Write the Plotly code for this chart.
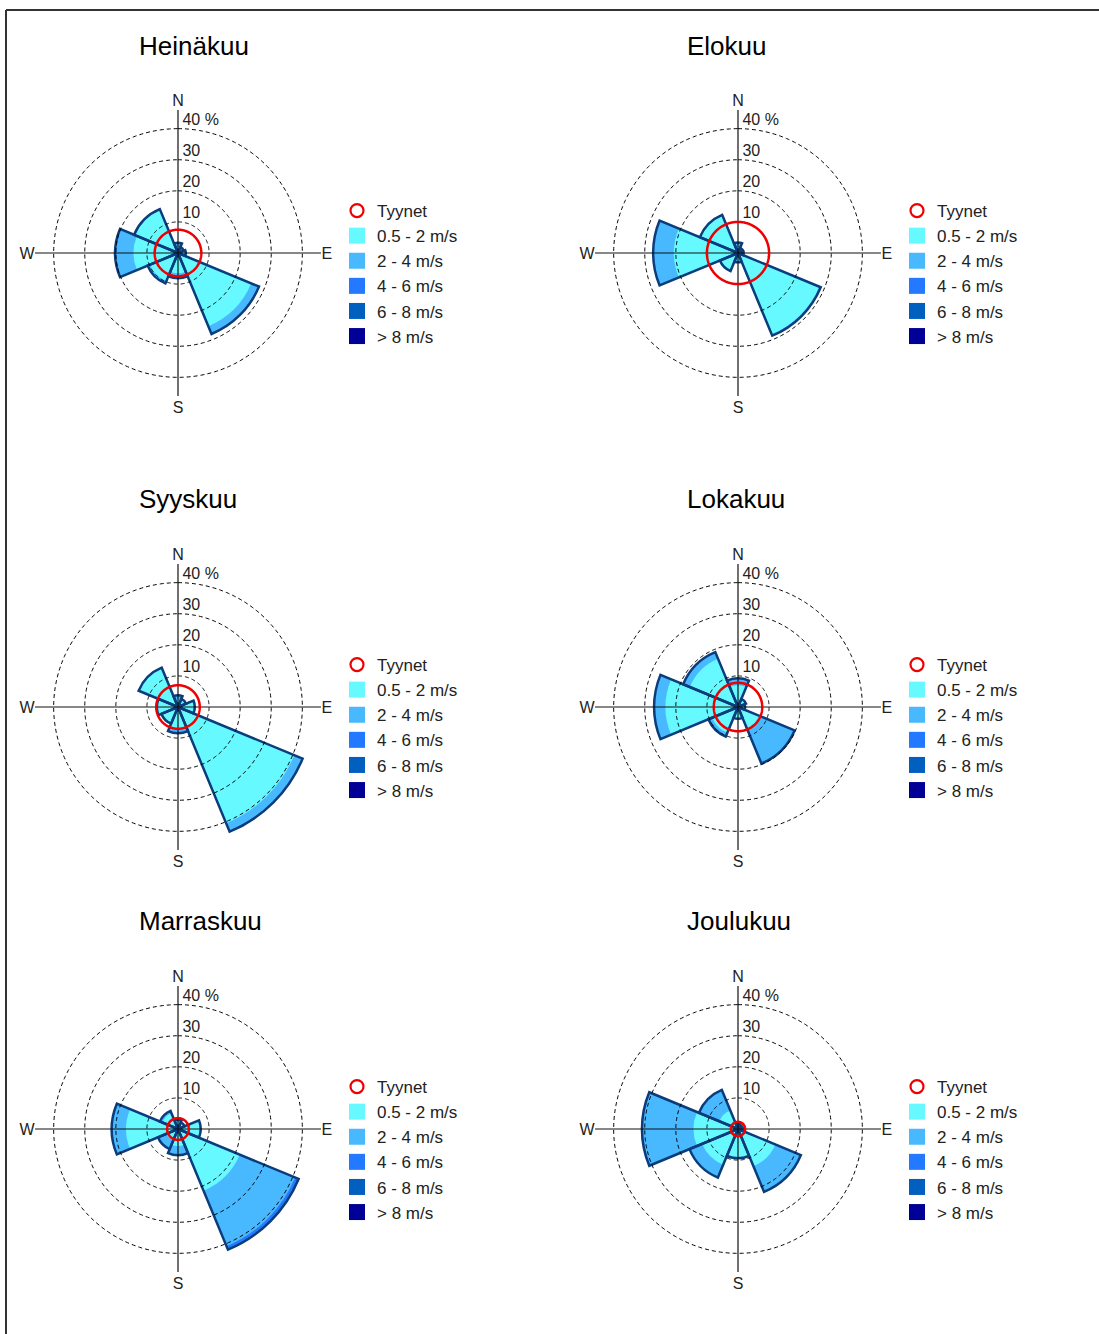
import plotly.graph_objects as go

# --- data -------------------------------------------------------------------
months = ["Heinäkuu", "Elokuu", "Syyskuu", "Lokakuu", "Marraskuu", "Joulukuu"]
directions = [0, 45, 90, 135, 180, 225, 270, 315]  # N, NE, E, SE, S, SW, W, NW
compass = ["N", "E", "S", "W"]
classes = ["0.5 - 2 m/s", "2 - 4 m/s", "4 - 6 m/s", "6 - 8 m/s", "> 8 m/s"]
calm_label = "Tyynet"
ring_values = [10, 20, 30, 40]
ring_labels = ["10", "20", "30", "40 %"]

# calm share (%) per month
calm = [7.5, 10.0, 7.0, 7.8, 3.5, 2.3]

# share (%) per direction N..NW, one list per month
speed_05_2 = [
    [2.0, 1.5, 2.2, 25.5, 6.5, 9.8, 14.3, 15.0],
    [2.0, 1.5, 1.5, 28.3, 2.5, 6.0, 20.6, 13.0],
    [2.5, 2.5, 5.0, 40.5, 7.0, 5.5, 6.5, 13.5],
    [7.0, 2.5, 2.0, 8.0, 3.5, 9.0, 23.3, 16.8],
    [2.5, 2.0, 7.0, 21.5, 5.5, 4.0, 16.7, 5.5],
    [1.2, 1.0, 1.0, 13.0, 9.0, 12.5, 14.3, 6.5],
]
speed_2_4 = [
    [1.2, 0.5, 0.3, 2.5, 1.5, 0.8, 5.7, 0.3],
    [1.3, 0.3, 0.3, 0.4, 0.5, 0.3, 6.6, 0.3],
    [1.2, 0.3, 0.4, 2.7, 1.4, 0.3, 0.3, 0.2],
    [2.1, 0.3, 0.3, 11.5, 0.3, 1.3, 3.6, 2.2],
    [0.5, 0.3, 0.3, 19.3, 2.8, 3.0, 4.5, 0.8],
    [0.8, 0.5, 0.5, 8.8, 0.4, 4.3, 16.3, 7.0],
]
speed_4_6 = [
    [0.1, 0.0, 0.0, 0.2, 0.1, 0.0, 0.2, 0.0],
    [0.1, 0.0, 0.0, 0.1, 0.0, 0.0, 0.1, 0.0],
    [0.1, 0.0, 0.0, 0.2, 0.0, 0.0, 0.0, 0.0],
    [0.1, 0.0, 0.0, 0.2, 0.0, 0.0, 0.1, 0.1],
    [0.0, 0.0, 0.0, 1.2, 0.1, 0.0, 0.1, 0.0],
    [0.0, 0.0, 0.0, 0.1, 0.0, 0.1, 0.3, 0.1],
]
speed_6_8 = [[0.0] * 8 for _ in months]
speed_8 = [[0.0] * 8 for _ in months]

colors = ["#66F9FF", "#48B8FF", "#2379FF", "#005FBF", "#000096"]
OUTLINE = "#0B3C7C"
FONT = "Liberation Sans, Arial, sans-serif"

# --- layout helpers (pixel positions of the reference) ------------------------
W, H = 1099, 1334


def fx(px):
    return px / W


def fy(py):
    return 1 - py / H


centers = [(178, 253), (738, 253), (178, 707), (738, 707), (178, 1129), (738, 1129)]
title_pos = [(137, 46), (685, 46), (137, 499), (685, 499), (137, 921), (685, 921)]
R_PX = 143
R_MAX = 46

fig = go.Figure()
layout = {}
annotations = []

for i, month in enumerate(months):
    sub = "polar" if i == 0 else f"polar{i + 1}"
    leg = "legend" if i == 0 else f"legend{i + 1}"
    cx, cy = centers[i]

    bands = [speed_05_2[i], speed_2_4[i], speed_4_6[i], speed_6_8[i], speed_8[i]]
    cum, run = [], [0.0] * 8
    for b in bands:
        run = [a + v for a, v in zip(run, b)]
        cum.append(run)

    # stacked wedges drawn as overlaid cumulative bars, outer band first
    for k in reversed(range(len(bands))):
        fig.add_trace(go.Barpolar(
            r=cum[k], theta=directions, width=45, subplot=sub,
            marker=dict(color=colors[k], line=dict(width=0)),
            showlegend=False, hoverinfo="skip"))
    fig.add_trace(go.Barpolar(
        r=cum[-1], theta=directions, width=45, subplot=sub,
        marker=dict(color="rgba(0,0,0,0)", line=dict(color=OUTLINE, width=2.5)),
        showlegend=False, hoverinfo="skip"))

    # dashed rings
    for v in ring_values:
        fig.add_trace(go.Scatterpolar(
            r=[v] * 361, theta=list(range(361)), mode="lines", subplot=sub,
            line=dict(color="#000000", width=1, dash="4px,3px"),
            showlegend=False, hoverinfo="skip"))
    # cross
    for a in (0, 90):
        fig.add_trace(go.Scatterpolar(
            r=[R_MAX, 0, R_MAX], theta=[a, a, a + 180], mode="lines", subplot=sub,
            line=dict(color="#111111", width=1.2),
            showlegend=False, hoverinfo="skip"))
    # calm circle
    fig.add_trace(go.Scatterpolar(
        r=[calm[i]] * 361, theta=list(range(361)), mode="lines", subplot=sub,
        line=dict(color="#EE0000", width=2.5),
        showlegend=False, hoverinfo="skip"))
    # ring labels
    fig.add_trace(go.Scatterpolar(
        r=ring_values, theta=[0] * len(ring_values), mode="text", subplot=sub,
        text=["\u00a0" + t for t in ring_labels], textposition="top right",
        cliponaxis=False,
        textfont=dict(size=16, color="#222222", family=FONT),
        showlegend=False, hoverinfo="skip"))

    # legend entries
    fig.add_trace(go.Scatterpolar(
        r=[None], theta=[None], mode="markers", subplot=sub, legend=leg,
        name=calm_label,
        marker=dict(symbol="circle-open", size=13, color="#EE0000",
                    line=dict(width=2.2, color="#EE0000"))))
    for k, cls in enumerate(classes):
        fig.add_trace(go.Scatterpolar(
            r=[None], theta=[None], mode="markers", subplot=sub, legend=leg,
            name=cls, marker=dict(symbol="square", size=18, color=colors[k])))

    layout[sub] = dict(
        domain=dict(x=[fx(cx - R_PX), fx(cx + R_PX)], y=[fy(cy + R_PX), fy(cy - R_PX)]),
        bgcolor="rgba(0,0,0,0)",
        barmode="overlay",
        radialaxis=dict(range=[0, R_MAX], showgrid=False, showline=False,
                        showticklabels=False, ticks=""),
        angularaxis=dict(rotation=90, direction="clockwise", tickmode="array",
                         tickvals=[0, 90, 180, 270], ticktext=compass,
                         showgrid=False, showline=False, ticks="",
                         tickfont=dict(size=16, color="#222222", family=FONT)),
    )
    layout[leg] = dict(
        x=fx(cx + 159), y=fy(cy - 60), xanchor="left", yanchor="top",
        bgcolor="rgba(0,0,0,0)", borderwidth=0, tracegroupgap=0,
        font=dict(size=17, color="#222222", family=FONT))

    tx, ty = title_pos[i]
    annotations.append(dict(
        text=month, x=fx(tx), y=fy(ty), xref="paper", yref="paper",
        xanchor="left", yanchor="middle", showarrow=False,
        font=dict(size=26, color="#000000", family=FONT)))

fig.update_layout(
    width=W, height=H, margin=dict(l=0, r=0, t=0, b=0),
    paper_bgcolor="white", plot_bgcolor="white",
    font=dict(family=FONT),
    annotations=annotations,
    shapes=[
        dict(type="line", xref="paper", yref="paper", x0=fx(6), x1=1, y0=fy(10), y1=fy(10),
             line=dict(color="#333333", width=2)),
        dict(type="line", xref="paper", yref="paper", x0=fx(6), x1=fx(6), y0=fy(10), y1=0,
             line=dict(color="#333333", width=2)),
    ],
    **layout,
)

fig.write_html("out.html", config={"displayModeBar": False},
               post_script="document.body.style.margin='0';")
